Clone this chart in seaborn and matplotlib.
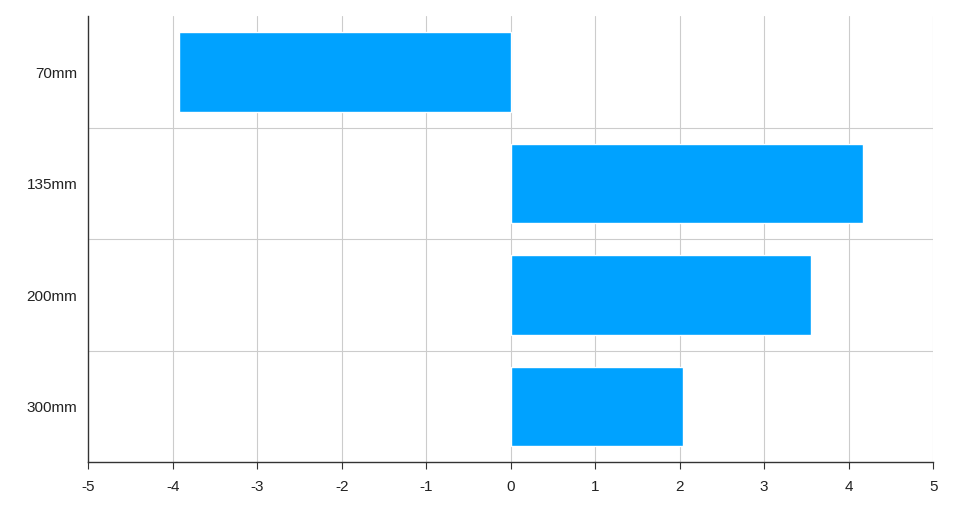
import matplotlib
matplotlib.use("Agg")
import matplotlib.pyplot as plt
import seaborn as sns
import pandas as pd

categories = ["70mm", "135mm", "200mm", "300mm"]
values = [-3.93, 4.17, 3.56, 2.04]
xticks = [-5, -4, -3, -2, -1, 0, 1, 2, 3, 4, 5]

sns.set_style("white")
plt.rcParams['font.family'] = ['Liberation Sans', 'DejaVu Sans']
fig, ax = plt.subplots(figsize=(9.7, 5.08), dpi=100)
fig.subplots_adjust(left=0.091, right=0.962, top=0.968, bottom=0.09)
df = pd.DataFrame({"cat": categories, "val": values})
sns.barplot(data=df, x="val", y="cat", orient="h", color="#00a2ff", saturation=1, width=0.71, ax=ax)
ax.set_xlim(-5, 5)
ax.set_ylim(3.5, -0.5)
ax.set_xticks(xticks)
ax.set_xticklabels([str(t) for t in xticks])
for x in xticks[1:]:
    ax.axvline(x, color="#cccccc", lw=0.8, zorder=0)
for y in [0.5, 1.5, 2.5]:
    ax.axhline(y, color="#cccccc", lw=0.8, zorder=0)
ax.set_xlabel("")
ax.set_ylabel("")
for s in ["top", "right"]:
    ax.spines[s].set_visible(False)
for s in ["left", "bottom"]:
    ax.spines[s].set_color("#333333")
    ax.spines[s].set_linewidth(1)
ax.tick_params(axis="both", labelsize=11, colors="#222222", length=0, pad=8)
ax.tick_params(axis="x", length=5, color="#333333", direction="out", bottom=True)
fig.savefig("out.png")
